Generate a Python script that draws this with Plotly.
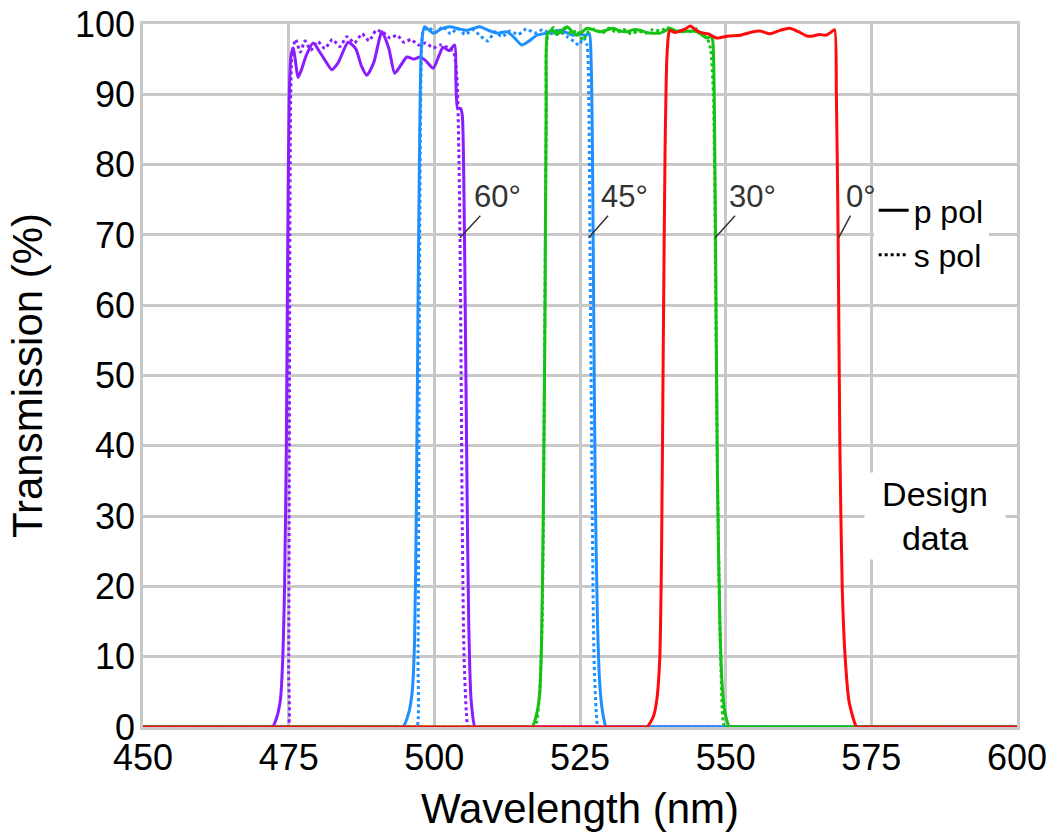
import plotly.graph_objects as go

# ---------------- data ----------------
PURPLE_P_WL = [450, 469.5, 471.2, 472.2, 473.0, 473.6, 474.0, 474.3, 474.6, 474.85, 475.1, 475.4, 475.8, 476.2, 476.6, 477.2, 478.0,
               479.2, 480.5, 481.5, 482.4, 483.5, 485.2, 486.5, 487.5, 488.4, 489.6, 491.0, 492.2, 493.2, 494.3, 495.3, 496.5,
               497.5, 498.5, 499.8, 500.8, 501.5, 502.5, 503.5, 503.7, 504.0, 504.5, 504.8, 505.1, 505.3, 505.6, 505.9, 506.3,
               507.0, 508.0, 510.0, 600]
PURPLE_P_T = [0, 0, 0, 0, 1.5, 4, 10, 20, 40, 70, 90, 95.5, 96.6, 94.5, 92.4, 93.5, 95.5,
              97.3, 95.8, 94.5, 93.5, 94.5, 97.4, 96.5, 94.0, 92.7, 94.5, 98.9, 96.5, 93.0, 94.2, 95.3, 95.0,
              95.3, 94.8, 93.7, 95.5, 96.7, 96.2, 97.0, 92.0, 88.0, 88.0, 87.0, 75.0, 60.0, 35.0, 15.0, 4.0,
              0, 0, 0, 0]

PURPLE_S_WL = [450, 472.5, 474.0, 474.9, 475.0, 475.1, 475.2, 475.35, 475.6, 476.2, 477.0, 477.8, 478.8, 480.0, 481.2, 482.5,
               483.8, 485.0, 486.3, 487.6, 488.8, 490.0, 491.2, 492.4, 493.6, 494.8, 496.0, 497.3, 498.5, 499.8, 501.0, 502.2,
               503.3, 503.9, 504.2, 504.4, 504.6, 504.8, 505.1, 505.5, 505.8, 506.6, 508.5, 600]
PURPLE_S_T = [0, 0, 0, 0, 8, 35, 70, 90, 96, 97.8, 96.0, 97.6, 96.3, 97.5, 96.5, 97.8,
              96.8, 98.2, 97.3, 98.6, 97.6, 99.1, 98.8, 98.0, 98.4, 97.4, 97.8, 97.0, 97.3, 96.6, 97.0, 96.7,
              96.0, 92.0, 82.0, 70.0, 50.0, 28.0, 10.0, 2.0, 0, 0, 0, 0]

BLUE_P_WL = [450, 492.0, 493.6, 494.6, 495.6, 496.2, 496.6, 496.9, 497.2, 497.5, 497.8, 498.3, 499.0, 499.8, 501.2, 502.7,
             504.2, 505.6, 506.8, 507.8, 509.3, 510.8, 512.5, 513.8, 515.0, 516.3, 517.6, 519.3, 521.6, 523.8, 525.0, 525.9,
             526.6, 526.9, 527.1, 527.3, 527.6, 528.0, 528.4, 528.9, 529.5, 530.5, 532.5, 600]
BLUE_P_T = [0, 0, 0, 0, 2, 5, 12, 30, 60, 85, 97, 99.6, 99.2, 98.7, 99.3, 99.6,
            99.3, 99.1, 99.4, 99.6, 99.1, 98.7, 98.9, 98.0, 97.0, 97.6, 98.4, 98.7, 99.1, 98.4, 98.6, 98.4,
            98.6, 95.0, 85.0, 65.0, 35.0, 15.0, 6.0, 2.0, 0, 0, 0, 0]

BLUE_S_WL = [450, 494.5, 496.2, 497.0, 497.2, 497.4, 497.6, 497.8, 498.1, 499.0, 500.2, 501.5, 502.8, 504.0, 505.3, 506.6,
             507.9, 509.2, 510.4, 511.6, 513.0, 514.4, 515.8, 517.2, 518.6, 520.0, 521.4, 522.8, 524.0, 524.8, 525.6, 526.2,
             526.5, 526.7, 527.0, 527.4, 527.8, 528.1, 529.0, 531.0, 600]
BLUE_S_T = [0, 0, 0, 0, 10, 50, 85, 96, 99.0, 99.5, 98.8, 99.6, 98.6, 99.4, 98.5, 99.2,
            98.3, 97.6, 98.9, 98.2, 99.0, 98.5, 99.3, 98.7, 99.2, 98.6, 99.0, 98.2, 97.5, 97.0, 98.0, 97.0,
            90.0, 70.0, 40.0, 10.0, 2.0, 0, 0, 0, 0]

GREEN_P_WL = [450, 514.0, 515.8, 516.8, 517.6, 518.1, 518.4, 518.7, 519.0, 519.2, 519.4, 520.2, 521.0, 522.0, 522.8, 523.6,
              524.5, 525.4, 526.2, 527.2, 528.4, 529.5, 530.7, 531.9, 533.1, 534.2, 535.3, 536.4, 537.5, 538.7, 539.6, 540.4,
              541.5, 542.6, 543.8, 545.1, 546.0, 546.8, 547.5, 547.8, 548.1, 548.3, 548.6, 549.0, 549.4, 549.9, 550.7,
              551.7, 553.5, 600]
GREEN_P_T = [0, 0, 0, 0, 2, 5, 12, 30, 60, 90, 98.5, 99.2, 98.5, 99.2, 99.6, 99.0,
             98.4, 98.9, 99.4, 99.2, 98.9, 99.1, 99.4, 99.0, 98.9, 99.2, 99.1, 98.8, 98.7, 98.7, 99.0, 99.4,
             99.0, 98.9, 99.0, 98.9, 98.4, 98.0, 98.3, 97.5, 85.0, 65.0, 35.0, 15.0, 6.0, 2.0, 0,
             0, 0, 0]

GREEN_S_WL = [450, 515.0, 516.5, 517.3, 518.0, 518.5, 518.9, 519.2, 519.5, 520.5, 521.5, 522.5, 523.5, 524.5, 525.5, 526.5,
              527.5, 528.8, 530.0, 531.2, 532.5, 533.8, 535.0, 536.3, 537.5, 538.8, 540.0, 541.3, 542.5, 543.8, 545.0, 546.0,
              546.8, 547.4, 547.9, 548.2, 548.6, 549.2, 549.8, 550.6, 552.5, 600]
GREEN_S_T = [0, 0, 0, 0, 4, 15, 50, 85, 98.5, 99.5, 98.6, 99.4, 98.6, 99.1, 97.7, 99.0,
             99.3, 98.7, 99.4, 98.8, 99.2, 98.6, 99.0, 98.7, 99.2, 99.0, 99.5, 98.8, 99.2, 98.9, 99.3, 98.5,
             98.0, 96.5, 90.0, 70.0, 35.0, 8.0, 0, 0, 0, 0]

RED_P_WL = [450, 534.0, 535.5, 536.5, 537.6, 538.2, 538.7, 539.0, 539.3, 539.6, 539.9, 540.2, 540.4, 541.3, 542.2, 543.1,
            543.9, 544.8, 545.6, 547.0, 548.5, 550.5, 552.5, 554.2, 555.9, 557.6, 559.3, 561.0, 562.5, 563.9, 565.0, 566.1,
            567.2, 568.2, 568.7, 569.0, 569.3, 569.6, 570.0, 570.5, 571.2, 572.5, 573.5, 575.5, 600]
RED_P_T = [0, 0, 0, 0, 1.5, 4, 10, 25, 55, 82, 95, 98.5, 99.1, 98.8, 99.0, 99.3,
           99.7, 99.2, 98.8, 98.6, 98.0, 98.3, 98.4, 98.8, 99.0, 98.6, 99.1, 99.4, 98.9, 98.3, 98.3, 98.5,
           98.4, 98.9, 99.2, 90.0, 70.0, 40.0, 20.0, 10.0, 3.5, 0, 0, 0, 0]

ANGLE_LABELS = ["60°", "45°", "30°", "0°"]
ANGLE_X = [504.4, 526.5, 548.2, 569.4]
ANGLE_Y = [69.6, 69.6, 69.6, 69.6]
ANGLE_AX = [38, 36, 37, 22]

X_TICKS = [450, 475, 500, 525, 550, 575, 600]
Y_TICKS = [0, 10, 20, 30, 40, 50, 60, 70, 80, 90, 100]

PURPLE = "#8A1CFF"
BLUE = "#1E8FFF"
GREEN = "#14C214"
RED = "#FF0A0A"
GRID = "#C8C8C8"
FONT = "Liberation Sans, Arial, sans-serif"

fig = go.Figure()

series = [
    (PURPLE_S_WL, PURPLE_S_T, PURPLE, "dot"),
    (PURPLE_P_WL, PURPLE_P_T, PURPLE, "solid"),
    (BLUE_S_WL, BLUE_S_T, BLUE, "dot"),
    (BLUE_P_WL, BLUE_P_T, BLUE, "solid"),
    (GREEN_S_WL, GREEN_S_T, GREEN, "dot"),
    (GREEN_P_WL, GREEN_P_T, GREEN, "solid"),
    (RED_P_WL, RED_P_T, RED, "solid"),
]
for wl, t, col, dash in series:
    assert len(wl) == len(t)
    fig.add_trace(go.Scatter(x=wl, y=t, mode="lines", showlegend=False, hoverinfo="skip",
                             line=dict(color=col, width=3, dash=dash, shape="spline", smoothing=0.6)))

# legend entries
fig.add_trace(go.Scatter(x=[None], y=[None], mode="lines", name="p pol",
                         line=dict(color="black", width=3, dash="solid")))
fig.add_trace(go.Scatter(x=[None], y=[None], mode="lines", name="s pol",
                         line=dict(color="black", width=3, dash="dot")))

for lab, x, y, ax in zip(ANGLE_LABELS, ANGLE_X, ANGLE_Y, ANGLE_AX):
    fig.add_annotation(x=x, y=y, text=lab, showarrow=True, arrowhead=0, arrowwidth=1.5,
                       arrowcolor="#333333", ax=ax, ay=-41,
                       font=dict(family=FONT, size=31, color="#333333"))

fig.add_annotation(x=586, y=30, text="Design<br>data", showarrow=False, bgcolor="white",
                   width=138, height=84,
                   font=dict(family=FONT, size=34, color="black"))

axis_common = dict(showgrid=True, gridcolor=GRID, gridwidth=2.5, zeroline=False,
                   showline=True, linecolor=GRID, linewidth=2.5, mirror=True,
                   ticks="", ticklabeloverflow="allow",
                   tickfont=dict(family=FONT, size=36, color="black"))

fig.update_xaxes(range=[450, 600], tickvals=X_TICKS, ticklabelstandoff=-3,
                 title=dict(text="Wavelength (nm)", font=dict(family=FONT, size=42, color="black"), standoff=17),
                 **axis_common)
fig.update_yaxes(range=[0, 100], tickvals=Y_TICKS, ticklabelstandoff=-2,
                 title=dict(text="Transmission (%)", font=dict(family=FONT, size=42, color="black"), standoff=20),
                 **axis_common)

fig.update_layout(
    width=1049, height=833,
    margin=dict(l=143, r=32, t=24, b=106, autoexpand=False),
    paper_bgcolor="white", plot_bgcolor="white",
    legend=dict(x=0.836, y=0.774, xanchor="left", yanchor="top", bgcolor="white",
                font=dict(family=FONT, size=32, color="black"), itemwidth=30,
                tracegroupgap=0),
)

# remove the browser's default 8px body margin so the figure fills the window exactly
fig.write_html("out.html", config={"displayModeBar": False},
               post_script="document.body.style.margin='0px';")
